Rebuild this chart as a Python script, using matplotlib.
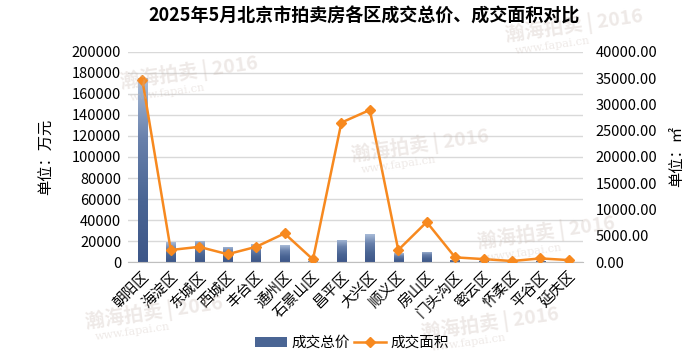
import matplotlib
matplotlib.use("Agg")
import matplotlib.pyplot as plt
import numpy as np
from matplotlib.lines import Line2D
from matplotlib.patches import Patch
from matplotlib.colors import LinearSegmentedColormap

plt.rcParams['font.family'] = ['Noto Sans CJK SC', 'DejaVu Sans']

districts = ['朝阳区', '海淀区', '东城区', '西城区', '丰台区', '通州区', '石景山区', '昌平区',
             '大兴区', '顺义区', '房山区', '门头沟区', '密云区', '怀柔区', '平谷区', '延庆区']
total_price = [175000, 19000, 20000, 14500, 17000, 16000, 800, 21000,
               26500, 8500, 10000, 2000, 1000, 400, 1000, 500]
total_area = [34700, 2300, 2900, 1500, 2900, 5450, 500, 26550,
              28950, 2300, 7620, 900, 570, 200, 700, 380]
left_ticks = list(range(0, 200001, 20000))
right_ticks = list(range(0, 40001, 5000))

title = '2025年5月北京市拍卖房各区成交总价、成交面积对比'

fig = plt.figure(figsize=(7, 3.63), dpi=100)
ax = fig.add_axes([0.183, 0.278, 0.650, 0.579])
ax2 = ax.twinx()

x = np.arange(len(districts))
bw = 0.33
bars = ax.bar(x, total_price, width=bw, color='#4a6594', zorder=2)
grad = np.linspace(0, 1, 256).reshape(-1, 1)
cmap = LinearSegmentedColormap.from_list('g', ['#3d5688', '#4a6594', '#6880ab', '#a9bcd8'])
for b in bars:
    bx, by = b.get_x(), b.get_y()
    w, h = b.get_width(), b.get_height()
    if h <= 0:
        continue
    im = ax.imshow(grad, extent=[bx, bx + w, by, by + h], origin='lower', aspect='auto',
                   cmap=cmap, zorder=2.1)
    im.set_clip_path(b)
    b.set_facecolor('none')

fs = 10.5
ax.set_xlim(-0.5, len(districts) - 0.5)
ax.set_ylim(0, 200000)
ax.set_yticks(left_ticks)
ax.set_yticklabels([str(v) for v in left_ticks])
ax.grid(axis='y', color='#d9d9d9', linewidth=1.0, zorder=0)
ax.set_axisbelow(True)
for s in ['top', 'right', 'left']:
    ax.spines[s].set_visible(False)
ax.spines['bottom'].set_color('#bfbfbf')
ax.tick_params(axis='both', length=0, labelsize=fs, pad=5)
ax.set_xticks(x)
ax.set_xticklabels(districts, rotation=45, ha='right', rotation_mode='anchor', fontsize=fs)
ax.set_ylabel('单位：万元', fontsize=11, labelpad=12)

ax2.plot(x, total_area, color='#f7891f', linewidth=1.8, marker='D', markersize=5, zorder=3)
ax2.set_ylim(0, 40000)
ax2.set_yticks(right_ticks)
ax2.set_yticklabels([f'{v:.2f}' for v in right_ticks])
for s in ['top', 'right', 'left', 'bottom']:
    ax2.spines[s].set_visible(False)
ax2.tick_params(axis='y', length=0, labelsize=fs, pad=9)
ax2.set_ylabel('单位：㎡', fontsize=11, rotation=90, labelpad=8)

fig.text(0.52, 0.957, title, ha='center', va='center', fontsize=13, fontweight='bold')

handles = [Patch(facecolor='#4a6594'),
           Line2D([0], [0], color='#f7891f', linewidth=1.8, marker='D', markersize=5)]
fig.legend(handles, ['成交总价', '成交面积'], loc='center', bbox_to_anchor=(0.503, 0.055),
           ncol=2, frameon=False, fontsize=fs, handlelength=2.2, columnspacing=0.3,
           handletextpad=0.3)

# faint watermarks
for (wx, wy) in [(0.27, 0.80), (0.60, 0.60), (0.78, 0.36), (0.82, 0.93), (0.22, 0.14), (0.70, 0.11)]:
    fig.text(wx, wy, '瀚海拍卖 | 2016', fontsize=14, color='#c8b8b0', alpha=0.3,
             rotation=8, ha='center', va='center', fontweight='bold', zorder=0)
    fig.text(wx - 0.03, wy - 0.055, 'www.fapai.cn', fontsize=8, color='#c8b8b0', alpha=0.3,
             rotation=8, ha='center', va='center', family='DejaVu Serif', zorder=0)

fig.savefig('out.png', dpi=100)
